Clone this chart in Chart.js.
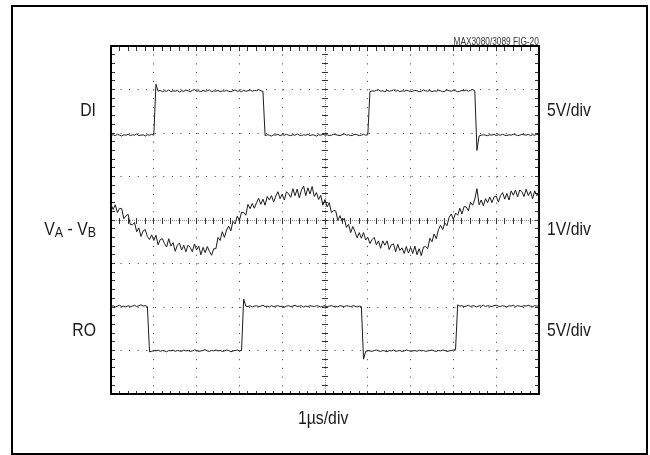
<!DOCTYPE html>
<html>
<head>
<meta charset="utf-8">
<script src="https://cdn.jsdelivr.net/npm/chart.js@4/dist/chart.umd.min.js"></script>
<style>
  body { margin: 0; background: #fff; }
  #wrap { position: relative; width: 650px; height: 455px; background: #fff; overflow: hidden; }
  #frame { position: absolute; left: 11px; top: 5px; width: 633px; height: 446px; border: 2px solid #000; }
  #scope { position: absolute; left: 0; top: 0; }
  .lbl { position: absolute; font-family: "Liberation Sans", Arial, sans-serif;
         font-size: 19px; line-height: 20px; height: 20px; color: #1a1a1a; white-space: nowrap;
         transform: scaleX(0.83); }
  .left { left: 6px; width: 90px; text-align: right; transform-origin: right center; }
  .right { left: 547px; transform-origin: left center; }
  .bottom { left: 298px; transform-origin: left center; }
  .sub { font-size: 15px; position: relative; top: 2px; }
  #fig { position: absolute; right: 111px; top: 36px; font-family: "Liberation Sans", Arial, sans-serif;
         font-size: 10px; line-height: 12px; color: #333; white-space: nowrap;
         transform: scaleX(0.83); transform-origin: right center; }
</style>
</head>
<body>
<div id="wrap">
  <div id="frame"></div>
  <canvas id="scope" width="650" height="455"></canvas>
  <div id="fig">MAX3080/3089 FIG-20</div>
  <div class="lbl left" style="top:100px">DI</div>
  <div class="lbl left" style="top:219px">V<span class="sub">A</span> - V<span class="sub">B</span></div>
  <div class="lbl left" style="top:320px">RO</div>
  <div class="lbl right" style="top:100px">5V/div</div>
  <div class="lbl right" style="top:219px">1V/div</div>
  <div class="lbl right" style="top:320px">5V/div</div>
  <div class="lbl bottom" style="top:408px">1µs/div</div>
</div>
<script>
// time base: 201 samples, 0.05 div apart (1 div = 1 µs)
const timeDiv = Array.from({ length: 201 }, (_, i) => +(i * 0.05).toFixed(2));

// traces, in screen divisions (center line = 0, +-4 div full scale)
const diTrace = [
  1.95, 1.96, 1.94, 1.97, 1.95, 1.93, 1.96, 1.95, 1.97, 1.94,
  1.96, 1.95, 1.98, 1.94, 1.95, 1.96, 1.93, 1.96, 1.95, 1.97,
  1.95, 3.12,
  2.96, 2.98, 2.95, 2.97, 2.96, 2.99, 2.95, 2.97, 2.96, 2.98,
  2.94, 2.97, 2.96, 2.99, 2.97, 2.95, 2.98, 3.00, 2.96, 2.97,
  2.95, 2.98, 2.96, 2.97, 2.99, 2.95, 2.97, 2.96, 2.98, 2.95,
  2.97, 2.96, 2.98, 2.96, 2.95, 2.97, 2.99, 2.96, 2.97, 2.95,
  2.98, 2.96, 2.97, 2.99, 2.96, 2.98, 2.97, 3.00, 2.97, 2.96,
  1.94, 1.96, 1.95, 1.93, 1.96, 1.95, 1.97, 1.94, 1.96, 1.95,
  1.97, 1.95, 1.94, 1.96, 1.95, 1.98, 1.95, 1.94, 1.96, 1.95,
  1.97, 1.94, 1.96, 1.95, 1.93, 1.96, 1.95, 1.97, 1.95, 1.96,
  1.94, 1.95, 1.97, 1.96, 1.95, 1.94, 1.96, 1.98, 1.95, 1.96,
  1.94, 1.95, 1.97, 1.96, 1.94, 1.95, 1.97, 1.95, 1.96,
  2.95, 2.97, 2.96, 2.98, 2.99, 2.96, 2.97, 2.95, 2.98, 2.96,
  2.97, 2.99, 2.96, 2.98, 2.95, 2.97, 2.96, 2.98, 2.97, 2.95,
  2.96, 2.98, 2.97, 2.95, 2.96, 2.99, 2.97, 2.96, 2.98, 2.95,
  2.97, 2.96, 2.98, 2.97, 2.95, 2.96, 2.99, 2.97, 2.96, 2.98,
  2.97, 2.95, 2.96, 2.98, 2.97, 2.99, 2.96, 2.98, 3.00, 2.97,
  1.60,
  1.93, 1.95, 1.96, 1.95, 1.94, 1.96, 1.95, 1.97, 1.94, 1.96,
  1.95, 1.97, 1.95, 1.94, 1.96, 1.95, 1.97, 1.96, 1.94, 1.95,
  1.97, 1.96, 1.95, 1.97, 1.94, 1.96, 1.95, 1.97, 1.96
];

const vabTrace = [
  0.36, 0.24, 0.35, 0.17, 0.27, 0.26, 0.03, 0.10, 0.13, -0.10, -0.11, -0.06, -0.27, -0.18, -0.38, -0.25, -0.22, -0.38, -0.45, -0.34,
  -0.47, -0.35, -0.57, -0.45, -0.43, -0.54, -0.62, -0.43, -0.60, -0.52, -0.72, -0.58, -0.53, -0.69, -0.58, -0.73, -0.58, -0.63, -0.73, -0.55,
  -0.69, -0.60, -0.80, -0.63, -0.75, -0.61, -0.72, -0.81, -0.66, -0.66, -0.40, -0.47, -0.27, -0.40, -0.23, -0.14, -0.25, -0.03, -0.09, 0.09,
  -0.01, 0.18, 0.17, 0.11, 0.36, 0.26, 0.38, 0.27, 0.40, 0.50, 0.36, 0.48, 0.34, 0.54, 0.46, 0.56, 0.41, 0.55, 0.65, 0.49,
  0.59, 0.46, 0.65, 0.60, 0.52, 0.72, 0.56, 0.71, 0.51, 0.69, 0.78, 0.56, 0.74, 0.60, 0.77, 0.54, 0.63, 0.47, 0.57, 0.34,
  0.47, 0.30, 0.40, 0.17, 0.22, 0.21, -0.01, 0.10, -0.03, 0.04, -0.17, -0.10, -0.29, -0.15, -0.27, -0.41, -0.29, -0.42, -0.29, -0.46,
  -0.40, -0.54, -0.45, -0.40, -0.57, -0.48, -0.65, -0.48, -0.58, -0.48, -0.68, -0.57, -0.55, -0.73, -0.56, -0.70, -0.64, -0.77, -0.61, -0.76,
  -0.63, -0.77, -0.60, -0.80, -0.66, -0.82, -0.62, -0.61, -0.66, -0.42, -0.50, -0.32, -0.43, -0.22, -0.12, -0.22, -0.07, -0.13, 0.06, 0.14,
  0.01, 0.16, 0.11, 0.27, 0.14, 0.31, 0.30, 0.21, 0.41, 0.34, 0.48, 0.72, 0.35, 0.46, 0.33, 0.49, 0.40, 0.53, 0.40, 0.53,
  0.55, 0.41, 0.56, 0.63, 0.48, 0.61, 0.46, 0.67, 0.57, 0.69, 0.53, 0.69, 0.65, 0.54, 0.71, 0.56, 0.66, 0.49, 0.67, 0.56, 0.63
];

const roTrace = [
  -1.99, -1.97, -2.00, -1.98, -1.96, -1.99, -1.98, -2.00, -1.97, -1.99,
  -1.98, -1.96, -1.99, -1.97, -1.95, -1.98, -1.97, -1.99,
  -3.03,
  -3.02, -3.00, -3.01, -2.99, -3.02, -3.00, -3.01, -3.03, -3.00, -3.01,
  -2.99, -3.02, -3.00, -3.01, -3.02, -2.99, -3.01, -3.00, -3.02, -3.01,
  -2.99, -3.00, -3.02, -3.01, -3.00, -2.98, -3.01, -3.02, -3.00, -3.01,
  -2.99, -3.01, -3.00, -3.02, -3.01, -2.99, -3.00, -3.03, -3.01, -3.00,
  -2.99, -3.01, -3.00,
  -1.82,
  -1.98, -1.99, -1.97, -2.00, -1.98, -1.97, -1.99, -1.98, -1.96, -1.99,
  -1.98, -2.00, -1.97, -1.99, -1.98, -1.97, -1.99, -1.98, -2.00, -1.98,
  -1.97, -1.99, -1.98, -1.96, -1.99, -1.98, -1.97, -2.00, -1.98, -1.99,
  -1.97, -1.98, -1.99, -1.97, -1.98, -2.00, -1.98, -1.97, -1.99, -1.98,
  -1.97, -1.99, -1.98, -2.00, -1.97, -1.98, -1.99, -1.97, -1.98, -1.99,
  -1.97, -1.98, -2.00, -1.98, -1.99,
  -3.20,
  -3.02, -3.00, -3.01, -3.02, -3.00, -2.99, -3.01, -3.02, -3.00, -3.01,
  -3.03, -3.00, -3.01, -2.99, -3.02, -3.01, -3.00, -3.02, -3.01, -2.99,
  -3.00, -3.02, -3.01, -3.00, -3.02, -2.99, -3.01, -3.00, -3.02, -3.01,
  -3.00, -2.99, -3.01, -3.02, -3.00, -3.01, -2.99, -3.00, -3.02, -3.01,
  -3.00, -2.99, -2.98,
  -1.95, -1.98, -1.97, -1.99, -1.98, -1.96, -1.99, -1.97, -1.98, -2.00,
  -1.97, -1.98, -1.96, -1.99, -1.97, -1.98, -1.99, -1.97, -1.96, -1.98,
  -1.99, -1.97, -1.98, -2.00, -1.97, -1.98, -1.96, -1.99, -1.97, -1.98,
  -1.99, -1.97, -1.98, -1.96, -1.98, -1.99, -1.97, -1.98, -1.97
];

const traceNames = ['DI', 'VA - VB', 'RO'];

// graticule: dots every minor division, finer dotted center lines
const dotsAlongY = [1, 7.7];
const dotsAlongX = [1, 7.56];
const centerDots = [1, 1];

function traceSet(name, values) {
    return {
        label: name,
        data: values,
        borderColor: '#1c1c1c',
        borderWidth: 1,
        pointRadius: 0,
        tension: 0,
        fill: false
    };
}

new Chart(document.getElementById('scope'), {
    type: 'line',
    data: {
        labels: timeDiv,
        datasets: [
            traceSet(traceNames[0], diTrace),
            traceSet(traceNames[1], vabTrace),
            traceSet(traceNames[2], roTrace)
        ]
    },
    options: {
        responsive: false,
        animation: false,
        layout: { padding: { left: 111, top: 46, right: 111, bottom: 61 } },
        plugins: { legend: { display: false }, tooltip: { enabled: false } },
        scales: {
            x: {
                type: 'linear', position: 'bottom', min: 0, max: 10,
                ticks: { display: false, stepSize: 1 },
                grid: {
                    drawTicks: false, lineWidth: 1,
                    color: ctx => (ctx.tick && ctx.tick.value === 5) ? '#8a8a8a' : '#3a3a3a'
                },
                border: {
                    display: true, color: '#000', width: 2,
                    dash: ctx => (ctx.tick && ctx.tick.value === 5) ? centerDots : dotsAlongY
                }
            },
            y: {
                type: 'linear', position: 'left', min: -4, max: 4,
                ticks: { display: false, stepSize: 1 },
                grid: {
                    drawTicks: false, lineWidth: 1,
                    color: ctx => (ctx.tick && ctx.tick.value === 0) ? '#8a8a8a' : '#3a3a3a'
                },
                border: {
                    display: true, color: '#000', width: 2,
                    dash: ctx => (ctx.tick && ctx.tick.value === 0) ? centerDots : dotsAlongX
                }
            },
            // minor ticks on the frame and on the center lines
            xMinor: {
                type: 'linear', position: 'top', min: 0, max: 10,
                ticks: { display: false, stepSize: 0.2, maxTicksLimit: 100 },
                grid: { drawTicks: false, lineWidth: 1, color: '#333' },
                border: { display: true, color: '#000', width: 2, dash: [4, 167, 6, 167, 4] }
            },
            yMinor: {
                type: 'linear', position: 'right', min: -4, max: 4,
                ticks: { display: false, stepSize: 0.2, maxTicksLimit: 100 },
                grid: { drawTicks: false, lineWidth: 1, color: '#333' },
                border: { display: true, color: '#000', width: 2, dash: [4, 207, 6, 207, 4] }
            }
        }
    }
});
</script>
</body>
</html>
